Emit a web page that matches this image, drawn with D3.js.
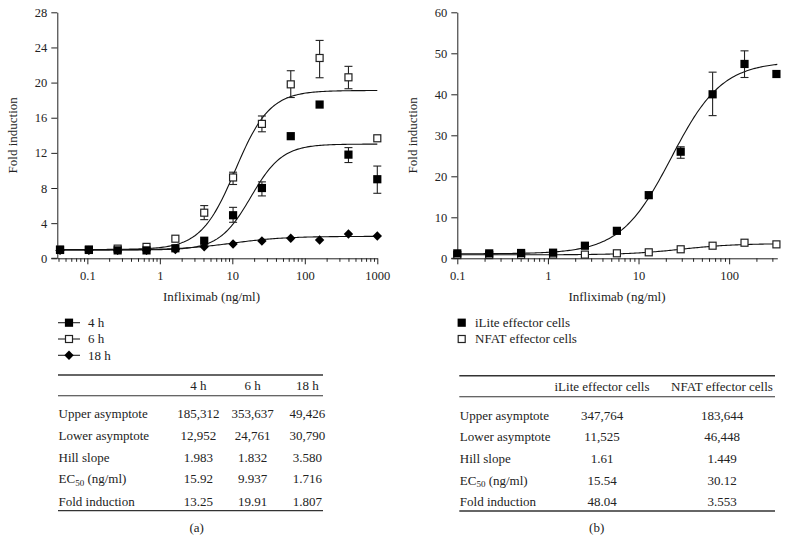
<!DOCTYPE html>
<html>
<head>
<meta charset="utf-8">
<script src="https://cdn.jsdelivr.net/npm/d3@7"></script>
<style>
  html, body { margin: 0; padding: 0; background: #fff; }
  svg { display: block; }
  text { font-family: "Liberation Serif", "Times New Roman", serif; fill: #222; }
</style>
</head>
<body>
<svg id="chart" width="790" height="555"></svg>
<script>
// ---------- Panel (a) data ----------
const concA = [0.042, 0.105, 0.262, 0.655, 1.638, 4.096, 10.24, 25.6, 64, 160, 400, 1000];
const h4 = [0.95, 0.95, 0.9, 0.9, 1.14, 2.0, 4.9, 8.0, 13.9, 17.5, 11.8, 9.0];
const h4Low = [null, null, null, null, null, null, 4.1, 7.1, null, null, 10.9, 7.4];
const h4High = [null, null, null, null, null, null, 5.8, 8.7, null, null, 12.6, 10.5];
const h6 = [1.0, 1.0, 1.1, 1.3, 2.23, 5.19, 9.2, 15.3, 19.8, 22.8, 20.6, 13.66];
const h6Low = [null, null, null, null, null, 4.4, 8.4, 14.4, 18.3, 20.55, 19.3, null];
const h6High = [null, null, null, null, null, 6.0, 9.8, 16.2, 21.35, 24.8, 21.85, null];
const h18 = [0.9, 0.9, 0.9, 0.9, 1.0, 1.32, 1.63, 1.97, 2.28, 2.08, 2.77, 2.54];
// fitted 4PL curves (bottom, top, EC50, hill) as drawn
const fitA4 = [0.95, 13.0, 18, 2.0];
const fitA6 = [1.0, 19.1, 11, 1.83];
const fitA18 = [0.95, 2.5, 10, 1.2];
const yTicksA = [0, 4, 8, 12, 16, 20, 24, 28];
const xTicksA = [0.1, 1, 10, 100, 1000];
const legendA = ["4 h", "6 h", "18 h"];
const tableHeadA = ["4 h", "6 h", "18 h"];
const rowLabels = ["Upper asymptote", "Lower asymptote", "Hill slope", "EC50 (ng/ml)", "Fold induction"];
const tableA = [
  ["185,312", "353,637", "49,426"],
  ["12,952", "24,761", "30,790"],
  ["1.983", "1.832", "3.580"],
  ["15.92", "9.937", "1.716"],
  ["13.25", "19.91", "1.807"]
];

// ---------- Panel (b) data ----------
const concB = [0.1, 0.225, 0.506, 1.14, 2.56, 5.77, 12.97, 29.2, 65.7, 147.8, 332.5];
const iLite = [1.2, 1.2, 1.3, 1.37, 3.07, 6.7, 15.4, 26.0, 40.0, 47.4, 44.95];
const iLiteLow = [null, null, null, null, null, null, null, 24.4, 34.8, 44.1, null];
const iLiteHigh = [null, null, null, null, null, null, null, 27.2, 45.4, 50.6, null];
const nfat = [0.8, 0.8, 0.85, 0.9, 0.9, 1.22, 1.46, 2.2, 3.07, 3.8, 3.4];
const fitBiLite = [1.1, 48, 23, 1.55];
const fitBnfat = [0.85, 3.6, 30, 1.45];
const yTicksB = [0, 10, 20, 30, 40, 50, 60];
const xTicksB = [0.1, 1, 10, 100];
const legendB = ["iLite effector cells", "NFAT effector cells"];
const tableHeadB = ["iLite effector cells", "NFAT effector cells"];
const tableB = [
  ["347,764", "183,644"],
  ["11,525", "46,448"],
  ["1.61", "1.449"],
  ["15.54", "30.12"],
  ["48.04", "3.553"]
];

const svg = d3.select("#chart");
const FONT_TICK = 12.5, FONT_LAB = 13;

function logistic(p, x) {
  return p[0] + (p[1] - p[0]) / (1 + Math.pow(p[2] / x, p[3]));
}

function minorTicks(domain) {
  const out = [];
  const lo = Math.floor(Math.log10(domain[0])), hi = Math.ceil(Math.log10(domain[1]));
  for (let e = lo; e <= hi; e++) {
    for (let m = 2; m <= 9; m++) {
      const v = m * Math.pow(10, e);
      if (v >= domain[0] * 0.999 && v <= domain[1] * 1.001) out.push(v);
    }
  }
  return out;
}

function drawAxes(g, x, y, xTicks, yTicks, yLabelX, xLabelX) {
  // minor x ticks
  g.append("g").attr("transform", `translate(0,${y.range()[0]})`)
    .call(d3.axisBottom(x).tickValues(minorTicks(x.domain())).tickSize(3.5).tickFormat(""))
    .call(s => s.select(".domain").remove());
  const xa = g.append("g").attr("transform", `translate(0,${y.range()[0]})`)
    .call(d3.axisBottom(x).tickValues(xTicks).tickSize(6).tickPadding(6.5)
      .tickFormat(d => d >= 1 ? d3.format("d")(d) : String(d)).tickSizeOuter(0));
  xa.selectAll("text").attr("font-size", FONT_TICK).style("font-family", "Liberation Serif");
  const ya = g.append("g").attr("transform", `translate(${x.range()[0]},0)`)
    .call(d3.axisLeft(y).tickValues(yTicks).tickSize(6).tickPadding(4).tickSizeOuter(0));
  ya.selectAll("text").attr("font-size", FONT_TICK).style("font-family", "Liberation Serif");
  g.selectAll(".domain, .tick line").attr("stroke", "#222").attr("stroke-width", 1);
  // extend x axis line to the left under the 0 tick
  g.append("line").attr("x1", x.range()[0] - 6).attr("x2", x.range()[0])
    .attr("y1", y.range()[0]).attr("y2", y.range()[0]).attr("stroke", "#222");
  g.append("text").attr("transform", `translate(${yLabelX},${(y.range()[0] + y.range()[1]) / 2}) rotate(-90)`)
    .attr("text-anchor", "middle").attr("font-size", FONT_LAB).text("Fold induction");
  g.append("text").attr("x", xLabelX).attr("y", 300.5)
    .attr("text-anchor", "middle").attr("font-size", FONT_LAB).text("Infliximab (ng/ml)");
}

function drawCurve(g, x, y, p, from, to) {
  const lx = d3.scaleLinear().domain([0, 200]).range([Math.log10(from), Math.log10(to)]);
  const pts = d3.range(0, 201).map(i => { const c = Math.pow(10, lx(i)); return [x(c), y(logistic(p, c))]; });
  g.append("path").attr("d", d3.line()(pts)).attr("fill", "none").attr("stroke", "#111").attr("stroke-width", 1.1);
}

function drawErr(g, x, y, conc, lo, hi) {
  conc.forEach((c, i) => {
    if (lo[i] == null) return;
    const cx = x(c);
    g.append("line").attr("x1", cx).attr("x2", cx).attr("y1", y(lo[i])).attr("y2", y(hi[i])).attr("stroke", "#222").attr("stroke-width", 1.1);
    [lo[i], hi[i]].forEach(v => g.append("line").attr("x1", cx - 4).attr("x2", cx + 4)
      .attr("y1", y(v)).attr("y2", y(v)).attr("stroke", "#222").attr("stroke-width", 1.1));
  });
}

function marker(g, type, cx, cy) {
  const s = 4.1;
  if (type === "filled") {
    g.append("rect").attr("x", cx - s).attr("y", cy - s).attr("width", 2 * s).attr("height", 2 * s).attr("fill", "#000");
  } else if (type === "open") {
    g.append("rect").attr("x", cx - s + 0.6).attr("y", cy - s + 0.6).attr("width", 2 * s - 1.2).attr("height", 2 * s - 1.2)
      .attr("fill", "#fff").attr("stroke", "#222").attr("stroke-width", 1.2);
  } else {
    const d = 4.7;
    g.append("path").attr("d", `M${cx},${cy - d}L${cx + d},${cy}L${cx},${cy + d}L${cx - d},${cy}Z`).attr("fill", "#000");
  }
}

function drawMarkers(g, x, y, conc, vals, type) {
  conc.forEach((c, i) => marker(g, type, x(c), y(vals[i])));
}

// ---------- Panel (a) ----------
const xA = d3.scaleLog().domain([0.0385, 1000]).range([57.3, 377.3]);
const yA = d3.scaleLinear().domain([0, 28]).range([258.3, 12.3]);
const gA = svg.append("g");
drawAxes(gA, xA, yA, xTicksA, yTicksA, 17, 211.5);
drawCurve(gA, xA, yA, fitA18, concA[0], 1000);
drawCurve(gA, xA, yA, fitA4, concA[0], 1000);
drawCurve(gA, xA, yA, fitA6, concA[0], 1000);
drawErr(gA, xA, yA, concA, h6Low, h6High);
drawErr(gA, xA, yA, concA, h4Low, h4High);
drawMarkers(gA, xA, yA, concA, h18, "diamond");
drawMarkers(gA, xA, yA, concA, h6, "open");
drawMarkers(gA, xA, yA, concA, h4, "filled");

// legend (a)
const legTypesA = ["filled", "open", "diamond"];
legendA.forEach((t, i) => {
  const cy = 322.7 + i * 16.3;
  gA.append("line").attr("x1", 58).attr("x2", 80).attr("y1", cy).attr("y2", cy).attr("stroke", "#222").attr("stroke-width", 1.1);
  marker(gA, legTypesA[i], 69, cy);
  gA.append("text").attr("x", 88).attr("y", cy + 4.2).attr("font-size", FONT_LAB).text(t);
});

// ---------- Panel (b) ----------
const xB = d3.scaleLog().domain([0.1, 340]).range([457.3, 777.3]);
const yB = d3.scaleLinear().domain([0, 60]).range([258.3, 12.3]);
const gB = svg.append("g");
drawAxes(gB, xB, yB, xTicksB, yTicksB, 417, 617);
drawCurve(gB, xB, yB, fitBnfat, concB[0], 340);
drawCurve(gB, xB, yB, fitBiLite, concB[0], 340);
drawErr(gB, xB, yB, concB, iLiteLow, iLiteHigh);
drawMarkers(gB, xB, yB, concB, nfat, "open");
drawMarkers(gB, xB, yB, concB, iLite, "filled");

// legend (b)
const legTypesB = ["filled", "open"];
legendB.forEach((t, i) => {
  const cy = 322.7 + i * 16.3;
  marker(gB, legTypesB[i], 461.7, cy);
  gB.append("text").attr("x", 475).attr("y", cy + 4.2).attr("font-size", FONT_LAB).text(t);
});

// ---------- Tables ----------
function labelText(g, x, y, label, anchor) {
  const t = g.append("text").attr("x", x).attr("y", y).attr("font-size", FONT_LAB).attr("text-anchor", anchor || "start");
  if (label.startsWith("EC50")) {
    t.append("tspan").text("EC");
    t.append("tspan").attr("font-size", 9).attr("dy", 2.5).text("50");
    t.append("tspan").attr("dy", -2.5).text(" (ng/ml)");
  } else {
    t.text(label);
  }
}

function drawTable(g, x0, x1, yTop, yHead, yBottom, headBase, rowBases, colX, heads, rows) {
  g.append("line").attr("x1", x0).attr("x2", x1).attr("y1", yTop).attr("y2", yTop).attr("stroke", "#333").attr("stroke-width", 1.6);
  g.append("line").attr("x1", x0).attr("x2", x1).attr("y1", yHead).attr("y2", yHead).attr("stroke", "#333").attr("stroke-width", 1.1);
  g.append("line").attr("x1", x0).attr("x2", x1).attr("y1", yBottom).attr("y2", yBottom).attr("stroke", "#333").attr("stroke-width", 1.3);
  heads.forEach((h, j) => g.append("text").attr("x", colX[j]).attr("y", headBase).attr("text-anchor", "middle").attr("font-size", FONT_LAB).text(h));
  rowLabels.forEach((lab, i) => {
    labelText(g, x0 + 0.5, rowBases[i], lab);
    rows[i].forEach((v, j) => g.append("text").attr("x", colX[j]).attr("y", rowBases[i]).attr("text-anchor", "middle").attr("font-size", FONT_LAB).text(v));
  });
}

drawTable(gA, 58, 323, 375, 395.7, 510.7, 390, [417.7, 439.5, 461.5, 483.3, 505.5], [198.3, 252.7, 307.3], tableHeadA, tableA);
drawTable(gB, 459.3, 775, 375.7, 396.7, 511, 391, [419.5, 441.3, 463, 484.7, 506.3], [602, 722], tableHeadB, tableB);

svg.append("text").attr("x", 196.7).attr("y", 532).attr("text-anchor", "middle").attr("font-size", FONT_LAB).text("(a)");
svg.append("text").attr("x", 596.7).attr("y", 532).attr("text-anchor", "middle").attr("font-size", FONT_LAB).text("(b)");
</script>
</body>
</html>
